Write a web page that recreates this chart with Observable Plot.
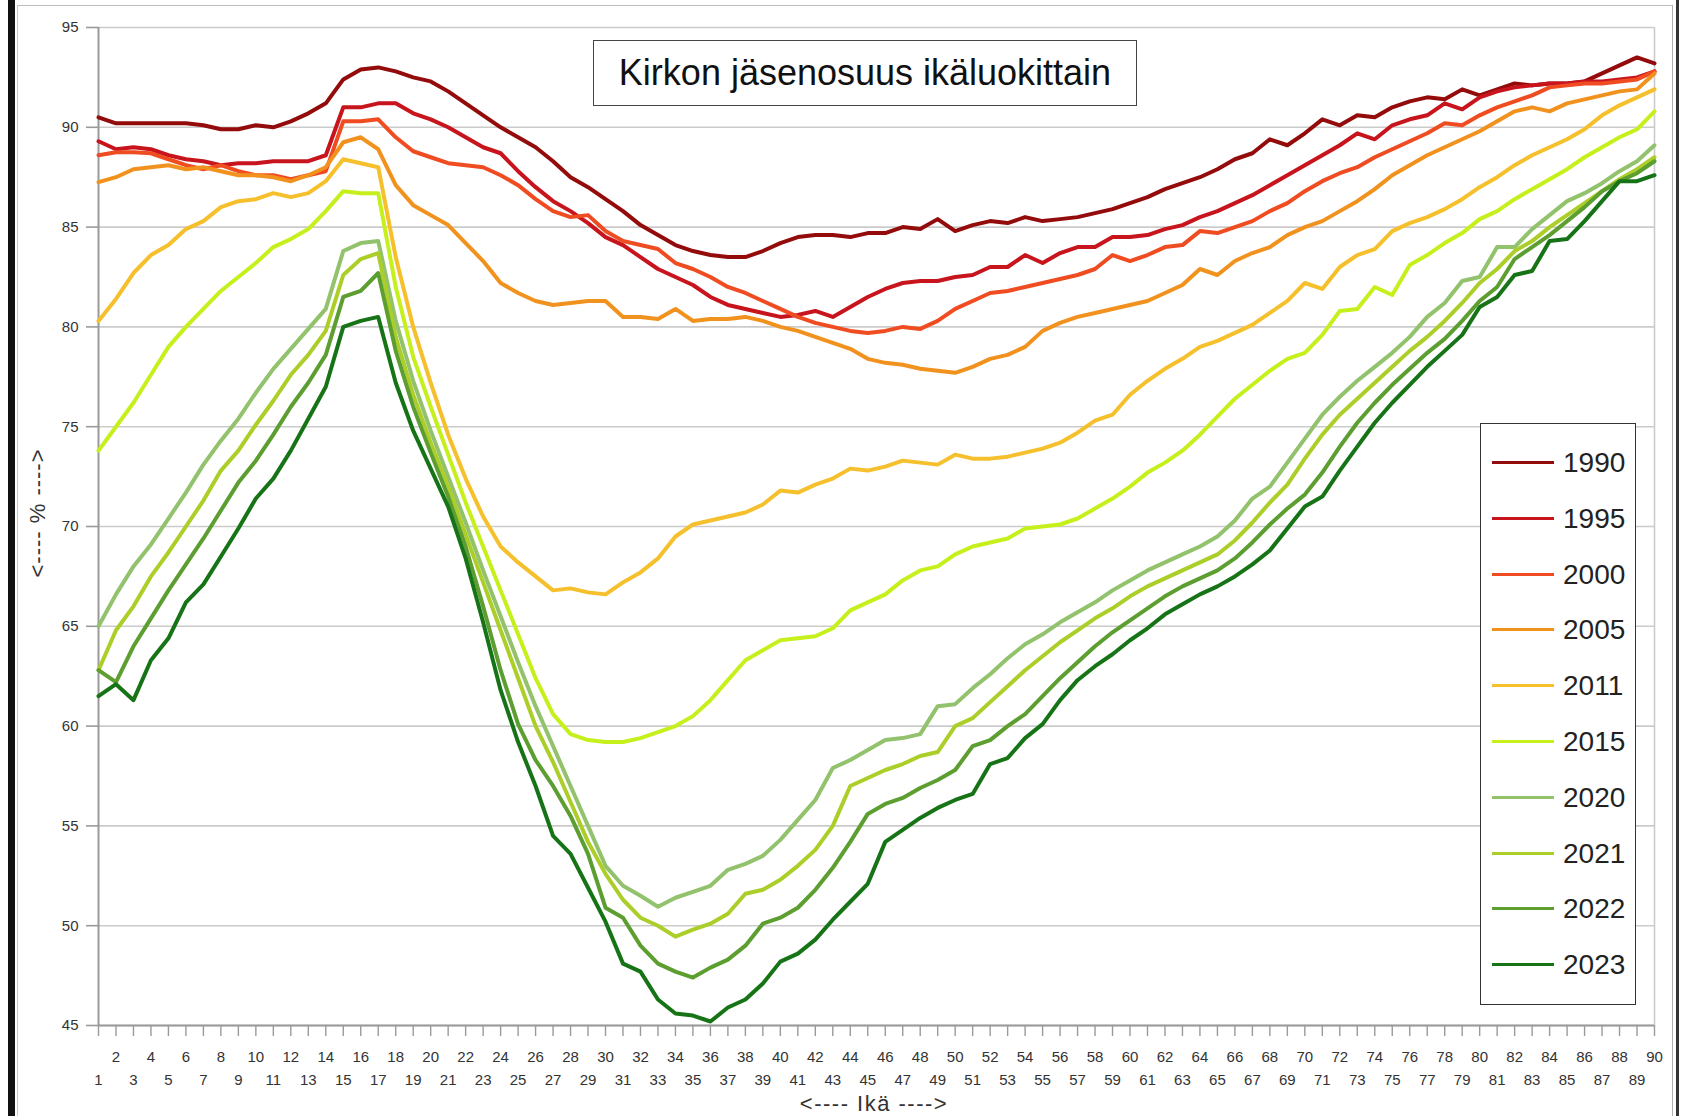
<!DOCTYPE html>
<html>
<head>
<meta charset="utf-8">
<script src="https://cdn.jsdelivr.net/npm/d3@7"></script>
<script src="https://cdn.jsdelivr.net/npm/@observablehq/plot@0.6"></script>
<style>
  html, body { margin: 0; padding: 0; background: #fff; }
  #wrap { position: relative; width: 1682px; height: 1116px; overflow: hidden; background: #fff;
          font-family: "Liberation Sans", Arial, sans-serif; color: #222; }
  #wrap svg { position: absolute; left: 0; top: 0; }
  .deco { position: absolute; }
  #title { position: absolute; left: 593px; top: 40px; width: 542px; height: 64px;
           border: 1.5px solid #444; background: #fff; box-sizing: content-box;
           font-size: 36px; line-height: 64px; text-align: center; color: #111; }
  #legend { position: absolute; left: 1480px; top: 423px; width: 154px; height: 580px;
            border: 1.5px solid #333; background: #fff; }
  .litem { position: absolute; left: 0; height: 40px; width: 154px; }
  .lline { position: absolute; left: 11px; top: 18px; width: 62px; height: 3px; }
  .ltext { position: absolute; left: 82px; top: 0; font-size: 28px; line-height: 40px; color: #222; }
  #ylab { position: absolute; left: 38px; top: 513px; transform: translate(-50%, -50%) rotate(-90deg);
          font-size: 22px; letter-spacing: 1px; white-space: nowrap; color: #333; }
  #xlab { position: absolute; left: 874px; top: 1093px; transform: translateX(-50%);
          font-size: 22px; letter-spacing: 1.5px; white-space: nowrap; color: #333; line-height: 22px; }
</style>
</head>
<body>
<div id="wrap"></div>
<script>
// ---- data ----
const ages = d3.range(1, 91);
const evenAges = ages.filter(a => a % 2 === 0);
const oddAges = ages.filter(a => a % 2 === 1);
const yTicks = [45, 50, 55, 60, 65, 70, 75, 80, 85, 90, 95];
const years = ["1990", "1995", "2000", "2005", "2011", "2015", "2020", "2021", "2022", "2023"];
const colors = ["#930b0b", "#c8141c", "#f04c22", "#f2921e", "#f5c02c", "#c6f01c", "#92c26c", "#acce28", "#5c9e30", "#167416"];
const titleText = "Kirkon jäsenosuus ikäluokittain";
const yLabel = "<---- % ---->";
const xLabel = "<---- Ikä ---->";

const v1990 = [90.5,90.2,90.2,90.2,90.2,90.2,90.1,89.9,89.9,90.1,90.0,90.3,90.7,91.2,92.4,92.9,93.0,92.8,92.5,92.3,91.8,91.2,90.6,90.0,89.5,89.0,88.3,87.5,87.0,86.4,85.8,85.1,84.6,84.1,83.8,83.6,83.5,83.5,83.8,84.2,84.5,84.6,84.6,84.5,84.7,84.7,85.0,84.9,85.4,84.8,85.1,85.3,85.2,85.5,85.3,85.4,85.5,85.7,85.9,86.2,86.5,86.9,87.2,87.5,87.9,88.4,88.7,89.4,89.1,89.7,90.4,90.1,90.6,90.5,91.0,91.3,91.5,91.4,91.9,91.6,91.9,92.2,92.1,92.2,92.2,92.3,92.7,93.1,93.5,93.2];
const v1995 = [89.3,88.9,89.0,88.9,88.6,88.4,88.3,88.1,88.2,88.2,88.3,88.3,88.3,88.6,91.0,91.0,91.2,91.2,90.7,90.4,90.0,89.5,89.0,88.7,87.8,87.0,86.3,85.8,85.2,84.5,84.1,83.5,82.9,82.5,82.1,81.5,81.1,80.9,80.7,80.5,80.6,80.8,80.5,81.0,81.5,81.9,82.2,82.3,82.3,82.5,82.6,83.0,83.0,83.6,83.2,83.7,84.0,84.0,84.5,84.5,84.6,84.9,85.1,85.5,85.8,86.2,86.6,87.1,87.6,88.1,88.6,89.1,89.7,89.4,90.1,90.4,90.6,91.2,90.9,91.5,91.8,92.0,92.1,92.2,92.2,92.3,92.3,92.4,92.5,92.8];
const v2000 = [88.6,88.75,88.75,88.7,88.4,88.1,87.9,88.1,87.8,87.6,87.6,87.4,87.6,87.8,90.3,90.3,90.4,89.5,88.8,88.5,88.2,88.1,88.0,87.6,87.1,86.4,85.8,85.5,85.6,84.8,84.3,84.1,83.9,83.2,82.9,82.5,82.0,81.7,81.3,80.9,80.5,80.2,80.0,79.8,79.7,79.8,80.0,79.9,80.3,80.9,81.3,81.7,81.8,82.0,82.2,82.4,82.6,82.9,83.6,83.3,83.6,84.0,84.1,84.8,84.7,85.0,85.3,85.8,86.2,86.8,87.3,87.7,88.0,88.5,88.9,89.3,89.7,90.2,90.1,90.6,91.0,91.3,91.6,92.0,92.1,92.2,92.2,92.3,92.4,92.8];
const v2005 = [87.25,87.5,87.9,88.0,88.1,87.9,88.0,87.8,87.6,87.6,87.5,87.3,87.6,88.0,89.25,89.5,88.9,87.1,86.1,85.6,85.1,84.2,83.3,82.2,81.7,81.3,81.1,81.2,81.3,81.3,80.5,80.5,80.4,80.9,80.3,80.4,80.4,80.5,80.3,80.0,79.8,79.5,79.2,78.9,78.4,78.2,78.1,77.9,77.8,77.7,78.0,78.4,78.6,79.0,79.8,80.2,80.5,80.7,80.9,81.1,81.3,81.7,82.1,82.9,82.6,83.3,83.7,84.0,84.6,85.0,85.3,85.8,86.3,86.9,87.6,88.1,88.6,89.0,89.4,89.8,90.3,90.8,91.0,90.8,91.2,91.4,91.6,91.8,91.9,92.7];
const v2011 = [80.3,81.4,82.7,83.6,84.1,84.9,85.3,86.0,86.3,86.4,86.7,86.5,86.7,87.3,88.4,88.2,88.0,83.5,80.0,77.2,74.6,72.4,70.5,69.0,68.2,67.5,66.8,66.9,66.7,66.6,67.2,67.7,68.4,69.5,70.1,70.3,70.5,70.7,71.1,71.8,71.7,72.1,72.4,72.9,72.8,73.0,73.3,73.2,73.1,73.6,73.4,73.4,73.5,73.7,73.9,74.2,74.7,75.3,75.6,76.6,77.3,77.9,78.4,79.0,79.3,79.7,80.1,80.7,81.3,82.2,81.9,83.0,83.6,83.9,84.8,85.2,85.5,85.9,86.4,87.0,87.5,88.1,88.6,89.0,89.4,89.9,90.6,91.1,91.5,91.9];
const v2015 = [73.8,75.0,76.2,77.6,79.0,80.0,80.9,81.8,82.5,83.2,84.0,84.4,84.9,85.8,86.8,86.7,86.7,82.0,78.5,76.0,73.6,71.2,69.0,66.8,64.6,62.4,60.6,59.6,59.3,59.2,59.2,59.4,59.7,60.0,60.5,61.3,62.3,63.3,63.8,64.3,64.4,64.5,64.9,65.8,66.2,66.6,67.3,67.8,68.0,68.6,69.0,69.2,69.4,69.9,70.0,70.1,70.4,70.9,71.4,72.0,72.7,73.2,73.8,74.6,75.5,76.4,77.1,77.8,78.4,78.7,79.6,80.8,80.9,82.0,81.6,83.1,83.6,84.2,84.7,85.4,85.8,86.4,86.9,87.4,87.9,88.5,89.0,89.5,89.9,90.8];
const v2020 = [65.0,66.6,68.0,69.1,70.4,71.7,73.1,74.3,75.4,76.7,77.9,78.9,79.9,80.9,83.8,84.2,84.3,80.3,77.3,74.8,72.5,70.2,67.8,65.5,63.2,61.0,59.0,57.0,55.0,53.0,52.0,51.5,50.95,51.4,51.7,52.0,52.8,53.1,53.5,54.3,55.3,56.3,57.9,58.3,58.8,59.3,59.4,59.6,61.0,61.1,61.9,62.6,63.4,64.1,64.6,65.2,65.7,66.2,66.8,67.3,67.8,68.2,68.6,69.0,69.5,70.3,71.4,72.0,73.2,74.4,75.6,76.5,77.3,78.0,78.7,79.5,80.5,81.2,82.3,82.5,84.0,84.0,84.9,85.6,86.3,86.7,87.2,87.8,88.3,89.1];
const v2021 = [62.8,64.8,66.0,67.5,68.7,70.0,71.3,72.8,73.8,75.1,76.3,77.6,78.6,79.8,82.6,83.4,83.7,79.5,76.6,74.2,72.0,69.6,67.2,64.8,62.4,60.0,58.2,56.2,54.2,52.6,51.3,50.4,50.0,49.45,49.8,50.1,50.6,51.6,51.8,52.3,53.0,53.8,55.0,57.0,57.4,57.8,58.1,58.5,58.7,60.0,60.4,61.2,62.0,62.8,63.5,64.2,64.8,65.4,65.9,66.5,67.0,67.4,67.8,68.2,68.6,69.3,70.2,71.2,72.1,73.4,74.6,75.6,76.4,77.2,78.0,78.8,79.5,80.3,81.2,82.2,82.9,83.8,84.3,85.0,85.6,86.2,86.8,87.4,87.9,88.5];
const v2022 = [62.8,62.2,64.0,65.4,66.8,68.1,69.4,70.8,72.2,73.3,74.6,76.0,77.2,78.6,81.5,81.8,82.7,78.8,76.0,73.7,71.5,69.0,66.0,62.8,60.1,58.3,57.0,55.5,53.6,50.9,50.4,49.0,48.1,47.7,47.4,47.9,48.3,49.0,50.1,50.4,50.9,51.8,52.9,54.2,55.6,56.1,56.4,56.9,57.3,57.8,59.0,59.3,60.0,60.6,61.5,62.4,63.2,64.0,64.7,65.3,65.9,66.5,67.0,67.4,67.8,68.4,69.2,70.1,70.9,71.6,72.7,74.0,75.2,76.2,77.1,77.9,78.7,79.4,80.3,81.3,82.0,83.4,84.0,84.6,85.3,86.0,86.8,87.3,87.7,88.3];
const v2023 = [61.5,62.1,61.3,63.3,64.4,66.2,67.1,68.5,69.9,71.4,72.4,73.8,75.4,77.0,80.0,80.3,80.5,77.2,74.8,72.9,71.0,68.4,65.2,61.8,59.2,57.0,54.5,53.6,51.9,50.2,48.1,47.7,46.3,45.6,45.5,45.2,45.9,46.3,47.1,48.2,48.6,49.3,50.3,51.2,52.1,54.2,54.8,55.4,55.9,56.3,56.6,58.1,58.4,59.4,60.1,61.3,62.3,63.0,63.6,64.3,64.9,65.6,66.1,66.6,67.0,67.5,68.1,68.8,69.9,71.0,71.5,72.8,74.0,75.2,76.2,77.1,78.0,78.8,79.6,81.0,81.5,82.6,82.8,84.3,84.4,85.3,86.3,87.3,87.3,87.6];

const seriesValues = [v1990, v1995, v2000, v2005, v2011, v2015, v2020, v2021, v2022, v2023];

// tidy table for Plot
const table = [];
years.forEach((yr, i) => {
  seriesValues[i].forEach((v, j) => table.push({ year: yr, age: ages[j], value: v }));
});

const wrap = document.getElementById("wrap");

const chart = Plot.plot({
  width: 1682,
  height: 1116,
  marginLeft: 98,
  marginRight: 28,
  marginTop: 27,
  marginBottom: 91,
  x: { domain: [1, 90], axis: null },
  y: { domain: [45, 95], axis: null },
  color: { domain: years, range: colors },
  style: { fontFamily: "'Liberation Sans', Arial, sans-serif", background: "transparent", color: "#333" },
  marks: [
    Plot.gridY({ ticks: yTicks, stroke: "#cbcbcb", strokeOpacity: 1, strokeWidth: 1.6 }),
    Plot.ruleX([90], { stroke: "#cbcbcb", strokeWidth: 1.6 }),
    Plot.axisY({ ticks: yTicks, tickSize: 12, tickPadding: 8, fontSize: 15, stroke: "#9a9a9a", strokeWidth: 1.6, fill: "#333", label: null }),
    Plot.axisX({ ticks: ages, tickSize: 11, fill: "none", stroke: "#9a9a9a", strokeWidth: 1.4, label: null }),
    Plot.axisX({ ticks: evenAges, tickSize: 0, tickPadding: 26, fontSize: 15, fill: "#333", label: null }),
    Plot.axisX({ ticks: oddAges, tickSize: 0, tickPadding: 49, fontSize: 15, fill: "#333", label: null }),
    Plot.ruleX([1], { stroke: "#9a9a9a", strokeWidth: 2 }),
    Plot.ruleY([45], { stroke: "#9a9a9a", strokeWidth: 2 }),
    Plot.line(table, { x: "age", y: "value", z: "year", stroke: "year", strokeWidth: 4, strokeLinejoin: "round" })
  ]
});
wrap.appendChild(chart);

// decorative frame pieces of the screenshot
function deco(l, t, w, h, c) {
  const d = document.createElement("div");
  d.className = "deco";
  Object.assign(d.style, { left: l + "px", top: t + "px", width: w + "px", height: h + "px", background: c });
  wrap.appendChild(d);
}
deco(8, 0, 7, 1116, "#111");
deco(17, 5, 1656, 1, "#bdbdbd");
deco(17, 5, 1, 1111, "#c8c8c8");
deco(1672, 5, 1, 1111, "#b0b0b0");
deco(1676, 0, 3, 1116, "#333");

// title box
const t = document.createElement("div");
t.id = "title";
t.textContent = titleText;
wrap.appendChild(t);

// axis titles
const yl = document.createElement("div");
yl.id = "ylab"; yl.textContent = yLabel; wrap.appendChild(yl);
const xl = document.createElement("div");
xl.id = "xlab"; xl.textContent = xLabel; wrap.appendChild(xl);

// legend
const lg = document.createElement("div");
lg.id = "legend";
years.forEach((yr, i) => {
  const it = document.createElement("div");
  it.className = "litem";
  it.style.top = (39 - 20 + i * 55.8) + "px";
  const ln = document.createElement("div");
  ln.className = "lline";
  ln.style.background = colors[i];
  const tx = document.createElement("div");
  tx.className = "ltext";
  tx.textContent = yr;
  it.appendChild(ln); it.appendChild(tx);
  lg.appendChild(it);
});
wrap.appendChild(lg);
</script>
</body>
</html>
